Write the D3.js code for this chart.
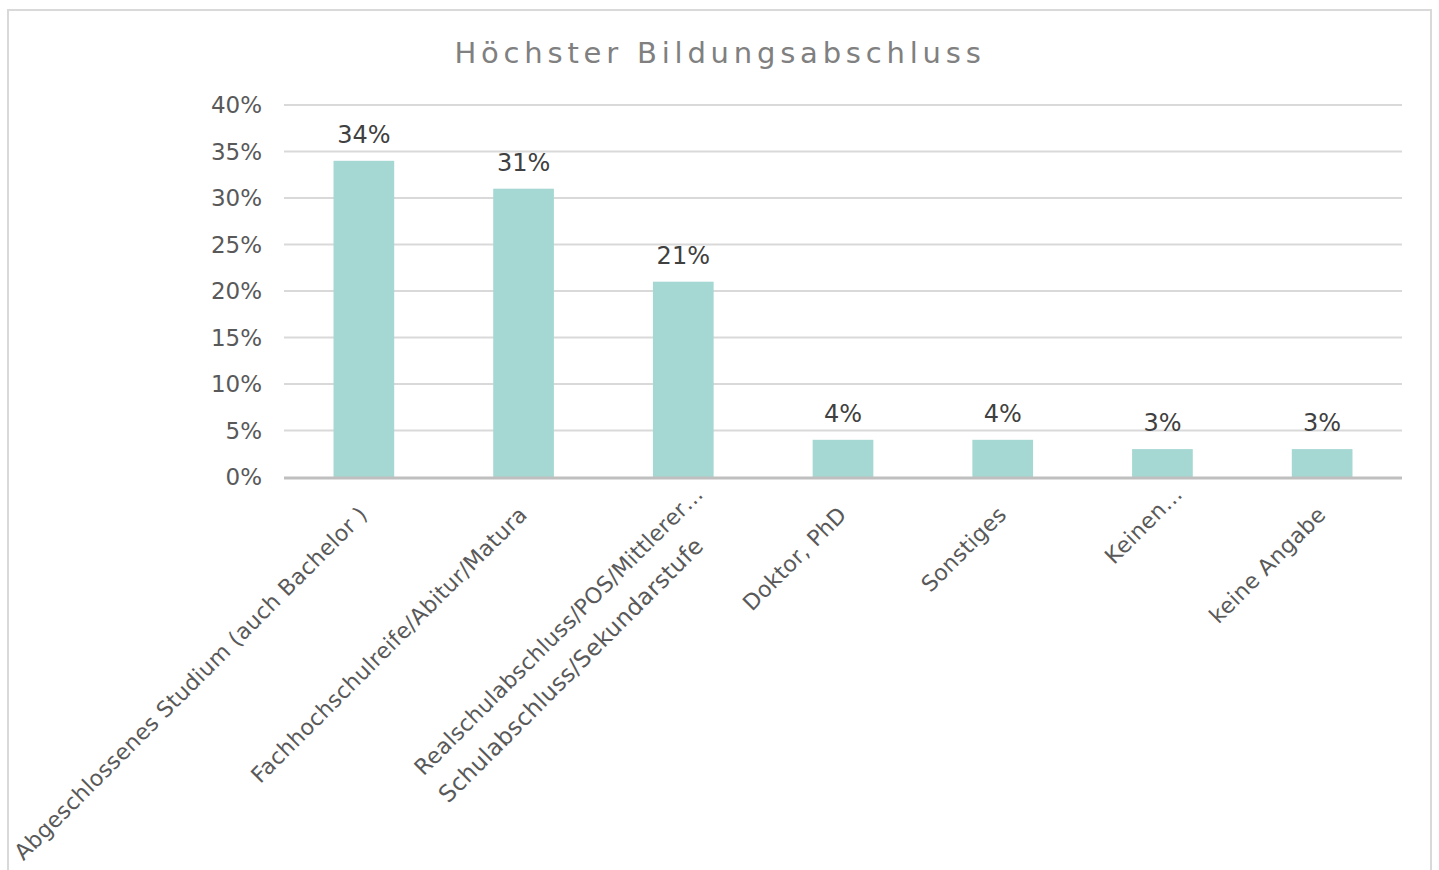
<!DOCTYPE html>
<html><head><meta charset="utf-8">
<script src="https://cdn.jsdelivr.net/npm/d3@7"></script>
<style>body{margin:0;background:#fff;}svg{display:block;}</style>
</head><body>
<script>
const categories = [
  ["Abgeschlossenes Studium (auch Bachelor )"],
  ["Fachhochschulreife/Abitur/Matura"],
  ["Realschulabschluss/POS/Mittlerer…", "Schulabschluss/Sekundarstufe"],
  ["Doktor, PhD"],
  ["Sonstiges"],
  ["Keinen…"],
  ["keine Angabe"]
];
const values = [34, 31, 21, 4, 4, 3, 3];
const yTicks = [0, 5, 10, 15, 20, 25, 30, 35, 40];
const title = "Höchster Bildungsabschluss";

const W = 1439, H = 870;
const svg = d3.select("body").append("svg").attr("width", W).attr("height", H);
const font = "'DejaVu Sans', sans-serif";

svg.append("rect").attr("x", 8).attr("y", 10).attr("width", 1423).attr("height", 900)
  .attr("fill", "#fff").attr("stroke", "#d9d9d9").attr("stroke-width", 2);

const x = d3.scaleBand().domain(d3.range(categories.length)).range([284, 1402]).paddingInner(0.62).paddingOuter(0.31);
const y = d3.scaleLinear().domain([0, 40]).range([477, 105]);

svg.append("text").attr("x", 720).attr("y", 63).attr("text-anchor", "middle")
  .attr("font-family", font).attr("font-size", 29).attr("letter-spacing", 4.8)
  .attr("fill", "#808080").text(title);

// gridlines
svg.append("g").selectAll("line").data(yTicks.filter(d => d > 0)).join("line")
  .attr("x1", 284).attr("x2", 1402).attr("y1", d => y(d)).attr("y2", d => y(d))
  .attr("stroke", "#d9d9d9").attr("stroke-width", 2);

// y labels
svg.append("g").selectAll("text").data(yTicks).join("text")
  .attr("x", 262).attr("y", d => y(d)).attr("dy", "0.36em").attr("text-anchor", "end")
  .attr("font-family", font).attr("font-size", 23).attr("fill", "#595959")
  .text(d => d + "%");

// bars
svg.append("g").selectAll("rect").data(values).join("rect")
  .attr("x", (d, i) => x(i)).attr("width", x.bandwidth())
  .attr("y", d => y(d)).attr("height", d => y(0) - y(d))
  .attr("fill", "#a6d8d3");

// axis line
svg.append("line").attr("x1", 284).attr("x2", 1402).attr("y1", y(0) + 1).attr("y2", y(0) + 1)
  .attr("stroke", "#bfbfbf").attr("stroke-width", 3);

// data labels
svg.append("g").selectAll("text").data(values).join("text")
  .attr("x", (d, i) => x(i) + x.bandwidth() / 2).attr("y", d => y(d) - 18)
  .attr("text-anchor", "middle").attr("font-family", font).attr("font-size", 24)
  .attr("fill", "#404040").text(d => d + "%");

// category labels
const cg = svg.append("g").selectAll("g").data(categories).join("g")
  .attr("transform", (d, i) => `translate(${x(i) + x.bandwidth() / 2 + 5},${516}) rotate(-45)`);
cg.each(function(lines) {
  const g = d3.select(this);
  const shift = lines[0].endsWith("…") ? 26 : 0;
  const t1 = g.append("text").attr("x", shift).attr("y", shift ? -3 : 0).attr("text-anchor", "end")
    .attr("font-family", font).attr("font-size", 22).attr("letter-spacing", 0.3)
    .attr("fill", "#595959").text(lines[0]);
  if (lines.length > 1) {
    const L1 = t1.node().getComputedTextLength();
    g.append("text").attr("x", shift - L1 - 2).attr("y", 34).attr("text-anchor", "start")
      .attr("font-family", font).attr("font-size", 23.3).attr("letter-spacing", 0.3)
      .attr("fill", "#595959").text(lines[1]);
  }
});
</script>
</body></html>
